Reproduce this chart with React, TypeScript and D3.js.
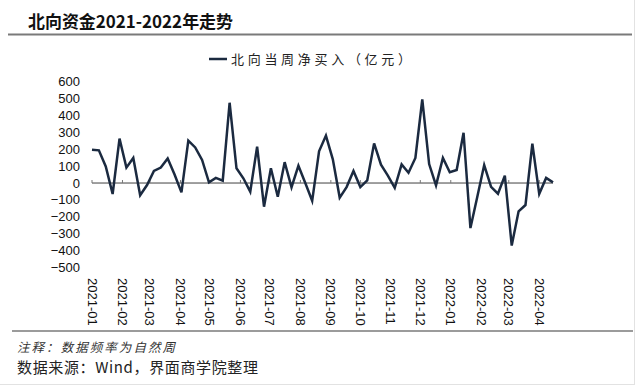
import React from 'react';
import * as d3 from 'd3';

// weekly (Friday) observation dates
const weeks = [
  '2021-01-01', '2021-01-08', '2021-01-15', '2021-01-22', '2021-01-29',
  '2021-02-05', '2021-02-12', '2021-02-19', '2021-02-26',
  '2021-03-05', '2021-03-12', '2021-03-19', '2021-03-26',
  '2021-04-02', '2021-04-09', '2021-04-16', '2021-04-23', '2021-04-30',
  '2021-05-07', '2021-05-14', '2021-05-21', '2021-05-28',
  '2021-06-04', '2021-06-11', '2021-06-18', '2021-06-25',
  '2021-07-02', '2021-07-09', '2021-07-16', '2021-07-23', '2021-07-30',
  '2021-08-06', '2021-08-13', '2021-08-20', '2021-08-27',
  '2021-09-03', '2021-09-10', '2021-09-17', '2021-09-24',
  '2021-10-01', '2021-10-08', '2021-10-15', '2021-10-22', '2021-10-29',
  '2021-11-05', '2021-11-12', '2021-11-19', '2021-11-26',
  '2021-12-03', '2021-12-10', '2021-12-17', '2021-12-24', '2021-12-31',
  '2022-01-07', '2022-01-14', '2022-01-21', '2022-01-28',
  '2022-02-04', '2022-02-11', '2022-02-18', '2022-02-25',
  '2022-03-04', '2022-03-11', '2022-03-18', '2022-03-25',
  '2022-04-01', '2022-04-08', '2022-04-15',
];

// 北向当周净买入（亿元）
const netBuy = [
  197, 193, 98, -65, 262, 91, 148, -72, -12, 71, 91, 145, 50, -55, 250, 210,
  136, 4, 30, 14, 474, 87, 28, -51, 215, -140, 87, -81, 123, -25, 102, 0,
  -105, 187, 280, 140, -86, -24, 71, -24, 15, 234, 108, 44, -28, 110, 61, 148,
  494, 112, -14, 148, 64, 77, 297, -266, -81, 106, -23, -63, 43, -369, -167, -130,
  232, -64, 30, 4,
];

const monthLabels = [
  '2021-01', '2021-02', '2021-03', '2021-04', '2021-05', '2021-06', '2021-07', '2021-08',
  '2021-09', '2021-10', '2021-11', '2021-12', '2022-01', '2022-02', '2022-03', '2022-04',
];

const yTicks = [600, 500, 400, 300, 200, 100, 0, -100, -200, -300, -400, -500];

const title = '北向资金2021-2022年走势';
const legendLabel = '北向当周净买入（亿元）';
const noteText = '注释：数据频率为自然周';
const sourceText = '数据来源：Wind，界面商学院整理';

const LINE = '#1b2a40';
const CJK = '"Noto Sans CJK SC", "Noto Sans", sans-serif';
const LATIN = '"Liberation Sans", Arial, sans-serif';

export default function App() {
  const width = 640;
  const height = 385;
  const parse = d3.timeParse('%Y-%m-%d');
  const parseMonth = d3.timeParse('%Y-%m');

  const data = weeks.map((w, i) => ({ date: parse(w)!, value: netBuy[i] }));

  const x = d3.scaleTime()
    .domain([data[0].date, data[data.length - 1].date])
    .range([92, 553]);

  const y = d3.scaleLinear()
    .domain([-500, 600])
    .range([267.7, 81.4]);

  const line = d3.line<{ date: Date; value: number }>()
    .x(d => x(d.date))
    .y(d => y(d.value));

  const fmt = d3.format('d');
  const y0 = y(0);

  return (
    <svg
      width={width}
      height={height}
      style={{ position: 'absolute', left: 0, top: 0, background: '#fff' }}
    >
      <rect x={0} y={0} width={width} height={height} fill="#fff" />
      <line x1={634.5} y1={0} x2={634.5} y2={385} stroke="#e2e2e2" />
      <line x1={0} y1={384.5} x2={635} y2={384.5} stroke="#e2e2e2" />

      {/* title */}
      <text x={28} y={28} fontFamily={CJK} fontWeight="bold" fontSize={17.5}
        fill="#111" textLength={205} lengthAdjust="spacingAndGlyphs">{title}</text>
      <line x1={8} y1={34.5} x2={632} y2={34.5} stroke="#7a7a7a" strokeWidth={2} />

      {/* legend */}
      <line x1={209} y1={59} x2={227} y2={59} stroke={LINE} strokeWidth={2.5} />
      <text x={231} y={64} fontFamily={CJK} fontSize={13} fill="#222"
        textLength={180} lengthAdjust="spacing">{legendLabel}</text>

      {/* y axis labels */}
      {yTicks.map(t => (
        <text key={t} x={80} y={y(t)} textAnchor="end" dominantBaseline="central"
          fontFamily={LATIN} fontSize={13} fill="#111">{fmt(t)}</text>
      ))}

      {/* zero axis + month ticks */}
      <line x1={92} y1={y0} x2={553} y2={y0} stroke="#404040" strokeWidth={1} />
      {monthLabels.map(m => {
        const px = x(parseMonth(m)!);
        return (
          <g key={m}>
            <line x1={px} y1={y0 - 3} x2={px} y2={y0} stroke="#777" strokeWidth={1} />
            <text transform={`translate(${px},278) rotate(90)`} textAnchor="start"
              dominantBaseline="central" fontFamily={LATIN} fontSize={13} fill="#111">{m}</text>
          </g>
        );
      })}

      {/* series */}
      <path d={line(data) ?? ''} fill="none" stroke={LINE} strokeWidth={2.5}
        strokeLinejoin="miter" />

      {/* footer */}
      <line x1={12} y1={331} x2={633} y2={331} stroke="#7a7a7a" strokeWidth={1.5} />
      <text x={17} y={352} fontFamily={CJK} fontStyle="italic" fontSize={12.5} fill="#333"
        textLength={158} lengthAdjust="spacing" transform="skewX(0)">{noteText}</text>
      <text x={17} y={373} fontFamily={CJK} fontSize={15} fill="#222"
        textLength={241} lengthAdjust="spacing">{sourceText}</text>
    </svg>
  );
}
